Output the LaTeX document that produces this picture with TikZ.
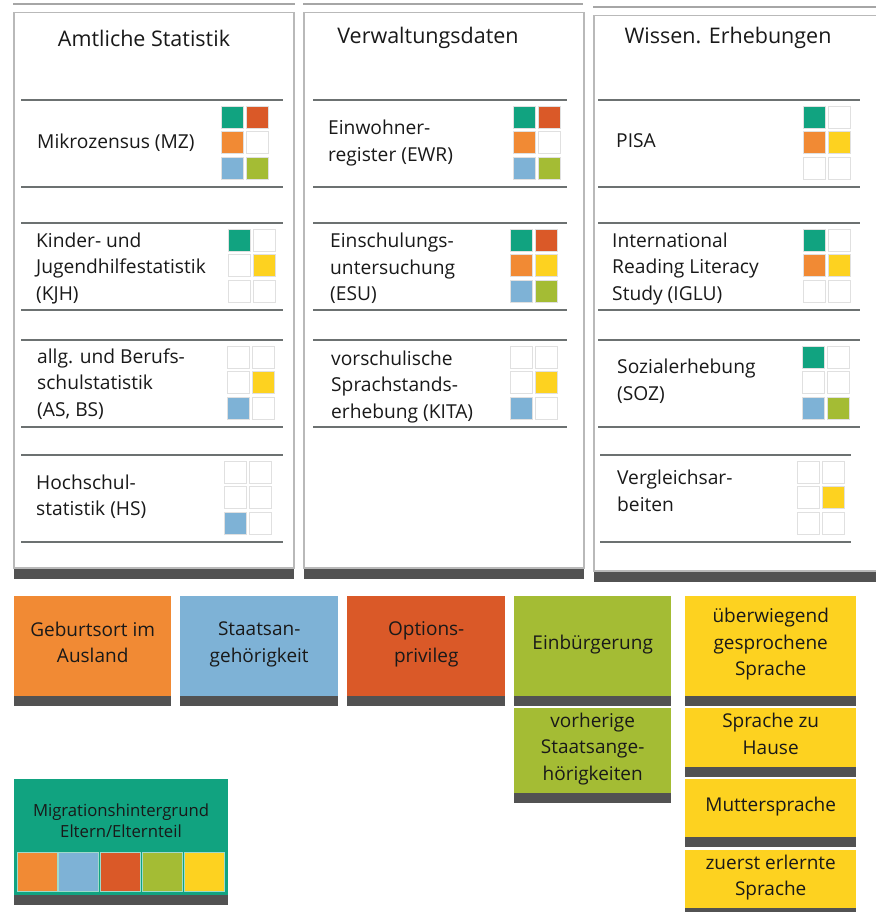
\documentclass[tikz,border=0pt]{standalone}
\usepackage{fontspec}
\setmainfont{Open Sans}
\usepackage{tikz}
\usetikzlibrary{shadows}

\definecolor{tuerkis}{RGB}{17,163,128}
\definecolor{rotorange}{RGB}{218,89,40}
\definecolor{hellorange}{RGB}{241,138,52}
\definecolor{hellblau}{RGB}{126,178,214}
\definecolor{gruen}{RGB}{164,188,52}
\definecolor{gelb}{RGB}{253,210,32}
\definecolor{linie}{RGB}{108,113,113}
\definecolor{schrift}{RGB}{25,25,25}
\colorlet{feld0}{tuerkis}
\colorlet{feld1}{rotorange}
\colorlet{feld2}{hellorange}
\colorlet{feld3}{gelb}
\colorlet{feld4}{hellblau}
\colorlet{feld5}{gruen}

% 2x3 colour grid, #1 x, #2 y, #3 six bits
\newcommand{\farbraster}[3]{%
  \foreach \b [count=\i from 0] in {#3} {
    \pgfmathsetmacro{\cx}{#1+mod(\i,2)*25.5}
    \pgfmathsetmacro{\cy}{#2+floor(\i/2)*25.5}
    \ifnum\b=1 \def\farbe{feld\i}\else\def\farbe{white}\fi
    \draw[feldrand, fill=\farbe] (\cx,\cy) rectangle ++(22,22);
  }
}

% one data source: name, top, line left, line right, text x, text, grid x, bits, text offset
\newcommand{\quelle}[9]{%
  \draw[trenner] (#3,#2) -- (#4,#2);
  \draw[trenner] (#3,#2+87) -- (#4,#2+87);
  \node[eintrag] (#1) at (#5,#2+#9) {#6};
  \farbraster{#7}{#2+6}{#8}
}

\begin{document}
\begin{tikzpicture}[x=1pt,y=-1pt,
    spalte/.style={draw=gray!55, line width=1.5pt, fill=white, anchor=north west,
      inner sep=0pt, minimum width=280pt, minimum height=555pt,
      drop shadow={shadow xshift=0pt, shadow yshift=-11pt, fill=black!75, opacity=.9}},
    deckel/.style={draw=gray!70, line width=2.5pt},
    titel/.style={font=\fontsize{21.5}{26}\selectfont, text=schrift},
    trenner/.style={draw=linie, line width=2pt},
    eintrag/.style={anchor=west, align=left, inner sep=0pt,
      font=\fontsize{19.2}{26.5}\selectfont, text=schrift},
    feldrand/.style={draw=black!12, line width=0.8pt},
    karte/.style={anchor=north west, inner sep=2pt, align=center, text depth=8pt,
      font=\fontsize{19}{26.5}\selectfont, text=schrift,
      drop shadow={shadow xshift=0pt, shadow yshift=-10pt, fill=black!75, opacity=.9}}]

    \useasboundingbox (0,0) rectangle (875,912);
    \fill[white] (0,0) rectangle (875,912);

    % Columns
    \node[spalte] (amtlich) at (13,12) {};
    \node[spalte] (verwaltung) at (303,12) {};
    \node[spalte, minimum width=295pt, minimum height=555pt] (wissen) at (593,15) {};
    \draw[deckel] (13,4) -- (295,4);
    \draw[deckel] (303,4) -- (583,4);
    \draw[deckel] (593,7) -- (880,7);

    \node[titel] (t1) at (144,38) {Amtliche Statistik};
    \node[titel] (t2) at (428,38) {Verwaltungsdaten};
    \node[titel] (t3) at (728,38) {Wissen. Erhebungen};

    % Amtliche Statistik
    \quelle{mz}{100}{21}{283}{37}{Mikrozensus (MZ)}{221}{1,1,1,0,1,1}{42.5}
    \quelle{kjh}{223}{21}{283}{36}{Kinder- und\\Jugendhilfestatistik\\(KJH)}{228}{1,0,0,1,0,0}{45.5}
    \quelle{asbs}{340}{21}{283}{37}{allg. und Berufs-\\schulstatistik\\(AS, BS)}{227}{0,0,0,1,1,0}{44}
    \quelle{hs}{455}{21}{283}{36}{Hochschul-\\statistik (HS)}{224}{0,0,0,0,1,0}{41.5}

    % Verwaltungsdaten
    \quelle{ewr}{100}{313}{567}{328}{Einwohner-\\register (EWR)}{513}{1,1,1,0,1,1}{43}
    \quelle{esu}{223}{313}{567}{330}{Einschulungs-\\untersuchung\\(ESU)}{510}{1,1,1,1,1,1}{45.5}
    \quelle{kita}{340}{313}{567}{331}{vorschulische\\Sprachstands-\\erhebung (KITA)}{510}{0,0,0,1,1,0}{47}

    % Wissenschaftliche Erhebungen
    \quelle{pisa}{100}{598}{860}{616}{PISA}{803}{1,0,1,1,0,0}{40.5}
    \quelle{iglu}{223}{598}{860}{612}{International\\Reading Literacy\\Study (IGLU)}{803}{1,0,1,1,0,0}{46}
    \quelle{soz}{340}{598}{860}{617}{Sozialerhebung\\(SOZ)}{802}{1,0,0,0,1,1}{41}
    \quelle{va}{455}{600}{851}{617}{Vergleichsar-\\beiten}{797}{0,0,0,1,0,0}{36}

    % Merkmale
    \node[karte, fill=hellorange, minimum width=157pt, minimum height=100pt] (geburt) at (14,596) {Geburtsort im\\Ausland};
    \node[karte, fill=hellblau, minimum width=158pt, minimum height=100pt] (staat) at (180,596) {Staatsan-\\gehörigkeit};
    \node[karte, fill=rotorange, minimum width=158pt, minimum height=100pt] (option) at (347,596) {Options-\\privileg};
    \node[karte, fill=gruen, minimum width=157pt, minimum height=100pt] (einb) at (514,596) {Einbürgerung};
    \node[karte, fill=gelb, minimum width=171pt, minimum height=100pt] (sprache) at (685,596) {überwiegend\\gesprochene\\Sprache};
    \node[karte, fill=gruen, minimum width=157pt, minimum height=85pt] (vorher) at (514,708) {vorherige\\Staatsange-\\hörigkeiten};
    \node[karte, fill=gelb, minimum width=171pt, minimum height=59pt] (hause) at (685,708) {Sprache zu\\Hause};
    \node[karte, fill=gelb, minimum width=171pt, minimum height=58pt] (mutter) at (685,779) {Muttersprache};
    \node[karte, fill=gelb, minimum width=171pt, minimum height=58pt] (zuerst) at (685,850) {zuerst erlernte\\Sprache};

    % Migrationshintergrund
    \node[karte, fill=tuerkis, minimum width=214pt, minimum height=116pt] (eltern) at (14,779) {};
    \node[font=\fontsize{16.7}{21}\selectfont, text=schrift, align=center] (elterntext) at (121,821) {Migrationshintergrund\\Eltern/Elternteil};
    \foreach \f [count=\k from 0] in {hellorange,hellblau,rotorange,gruen,gelb}
      \draw[fill=\f, draw=tuerkis!40!white, line width=0.8pt] (17+\k*41.8,852) rectangle ++(40,39);

\end{tikzpicture}
\end{document}
